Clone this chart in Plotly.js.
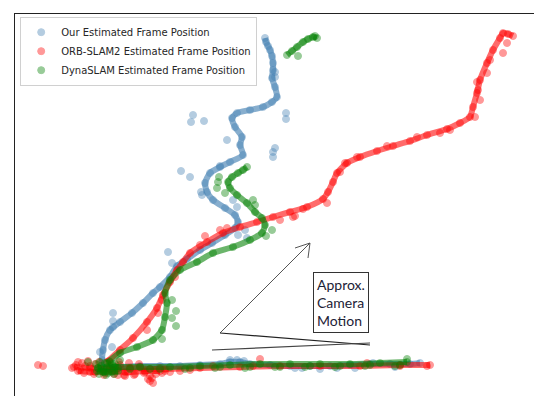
<!DOCTYPE html>
<html>
<head>
<meta charset="utf-8">
<script src="https://cdn.plot.ly/plotly-3.0.1.min.js"></script>
<style>html,body{margin:0;padding:0;background:#fff;}#chart{width:534px;height:396px;}</style>
</head>
<body>
<div id="chart"></div>
<script>
// Series names
var seriesNames = ["Our Estimated Frame Position", "ORB-SLAM2 Estimated Frame Position", "DynaSLAM Estimated Frame Position"];

// ---- Our method (blue) ----
var ourPathX = [265,266,268,270,272,273,273,272,275,277,272,263,250,237,232,235,242,240,243,230,220,210,205,207,213,225,235,238,235,225,212,200,187,177,170,160,153,143,132,120,110,105,103,102,103,null,
                103,120,140,160,180,200,220,230,240,250,270,290,310,330,350,370,390,410,420];
var ourPathY = [38,42,46,50,56,63,70,78,87,97,102,107,110,113,118,127,137,145,155,162,167,173,183,192,200,208,215,222,228,235,243,250,259,266,277,287,293,303,313,322,330,340,350,360,368,null,
                368,367,366,366,366,365,364,362,362,364,365,366,366,366,365,364,364,364,363];
var ourOutX = [275,275,193,191,204,286,286,227,275,273,273,181,190,201,202,233,237,245,238,247,168,172,113,113,113,100,112,220,230,237,244,302,337,373,295,320,355,395];
var ourOutY = [72,77,115,122,121,113,119,140,148,152,157,171,177,192,195,200,207,230,235,238,252,263,313,321,327,352,347,166,360,360,361,368,368,363,368,369,368,367];

// ---- ORB-SLAM2 (red) ----
var orbPathX = [107,120,133,147,157,163,170,177,183,190,207,223,240,257,273,290,307,323,328,333,337,347,360,377,393,410,427,447,460,470,473,477,480,487,493,500,503,508,513,null,
                74,90,110,130,150,165,200,240,280,320,360,400,430,null,
                78,95,112,128,145,160];
var orbPathY = [362,350,338,322,308,295,282,270,262,253,242,233,227,222,217,212,207,199,192,182,173,163,157,151,146,141,135,129,123,117,107,93,80,63,50,38,33,34,36,null,
                367,368,369,368,369,369,368,367,366,366,366,365,365,null,
                371,372,371,372,371,371];
var orbOutX = [327,293,357,345,340,387,417,440,450,475,478,477,487,490,507,503,480,220,227,280,295,303,205,200,175,147,158,162,
               38,43,72,76,80,85,90,95,100,105,110,115,120,125,130,135,140,145,150,150,153,155,160,165,118,125,90,82,260,213,253,367,400,427,
               78,84,88,94,99,104,109,114,119,124,129,134,139,144,148,152,156,162,170,180,190];
var orbOutY = [203,217,157,163,172,146,137,133,130,117,90,82,73,60,43,53,100,230,228,220,216,209,236,245,277,330,313,300,
               365,366,368,365,370,366,372,364,369,373,366,371,365,372,368,374,367,372,376,381,383,370,368,371,375,376,366,363,359,366,366,363,366,366,
               362,373,361,374,362,375,361,374,362,375,363,375,364,373,379,378,374,373,372,371,370];

// ---- DynaSLAM (green) ----
var dynaPathX = [107,120,137,153,162,165,167,165,170,180,197,213,233,250,262,265,262,255,247,237,230,228,232,238,243,247,null,
                 287,292,297,303,308,313,317,null,
                 98,115,140,170,200,230,260,290,320,350,380,407,null,
                 97,104,112,118];
var dynaPathY = [363,353,347,340,330,317,303,293,280,270,262,253,247,240,233,225,218,212,203,195,188,182,177,173,170,167,null,
                 55,51,47,42,39,37,38,null,
                 368,367,367,367,366,365,364,364,364,364,363,362,null,
                 371,372,372,371];
var dynaOutX = [98,101,104,107,110,113,103,108,112,298,315,219,218,217,225,253,255,272,266,172,176,172,176,162,120,88,407,150,185,215,245,275,305,335,365,395,
                96,100,105,110,115,118,99,106,114,130,160,190,220,250,280,310,340,370,400];
var dynaOutY = [368,366,370,367,369,366,372,373,364,56,36,177,182,188,193,200,205,230,236,300,311,318,326,339,360,362,359,369,369,368,368,367,367,367,366,366,
                364,362,363,362,364,368,374,375,374,369,369,368,367,367,367,366,366,365,365];

var colors = ["#4682b4", "#ff0000", "#008000"];
var lineColors = ["rgba(70,130,180,0.65)", "rgba(255,0,0,0.58)", "rgba(0,128,0,0.58)"];

function pathTrace(x, y, i) {
  return {x: x, y: y, mode: "lines", type: "scatter", showlegend: false, hoverinfo: "skip",
          line: {color: lineColors[i], width: 6, shape: "spline", smoothing: 0.6}, connectgaps: false};
}
function markerTrace(px, py, ox, oy, i) {
  var x = px.filter(function(v){return v !== null;}).concat(ox);
  var y = py.filter(function(v){return v !== null;}).concat(oy);
  return {x: x, y: y, mode: "markers", type: "scatter", name: seriesNames[i],
          marker: {color: colors[i], size: 7, opacity: 0.4, line: {color: colors[i], width: 1}}};
}

var data = [
  pathTrace(ourPathX, ourPathY, 0), markerTrace(ourPathX, ourPathY, ourOutX, ourOutY, 0),
  pathTrace(orbPathX, orbPathY, 1), markerTrace(orbPathX, orbPathY, orbOutX, orbOutY, 1),
  pathTrace(dynaPathX, dynaPathY, 2), markerTrace(dynaPathX, dynaPathY, dynaOutX, dynaOutY, 2)
];
data[1].legendrank = 1; data[3].legendrank = 2; data[5].legendrank = 3;

function seg(x0, y0, x1, y1, c, w) {
  return {type: "line", xref: "x", yref: "y", x0: x0, y0: y0, x1: x1, y1: y1, line: {color: c, width: w}};
}

var layout = {
  width: 534, height: 396,
  margin: {l: 15, r: 0, t: 14, b: 0, pad: 0},
  paper_bgcolor: "#fff", plot_bgcolor: "#fff",
  xaxis: {range: [15, 534], showgrid: false, zeroline: false, showticklabels: false, ticks: "",
          showline: true, side: "top", linecolor: "#222", linewidth: 1.3},
  yaxis: {range: [396, 14], showgrid: false, zeroline: false, showticklabels: false, ticks: "",
          showline: true, linecolor: "#222", linewidth: 1.3},
  showlegend: true,
  legend: {x: 0.01, y: 0.993, xanchor: "left", yanchor: "top", bgcolor: "rgba(255,255,255,0.85)",
           bordercolor: "#d0d0d0", borderwidth: 1, font: {family: "DejaVu Sans", size: 10, color: "#262626"},
           tracegroupgap: 0, itemwidth: 30},
  shapes: [
    seg(220, 333, 310, 243, "#555", 1),
    seg(310, 243, 295, 248, "#555", 1),
    seg(310, 243, 308, 258, "#555", 1),
    seg(220, 333, 370, 345, "#222", 1.2),
    seg(212, 350, 370, 343, "#444", 1.2)
  ],
  annotations: [{
    x: 313, y: 272, xref: "x", yref: "y", xanchor: "left", yanchor: "top", showarrow: false, align: "left",
    text: "Approx.<br>Camera<br>Motion", bordercolor: "#333", borderwidth: 1, borderpad: 3, bgcolor: "#fff",
    font: {family: "Lato", size: 14, color: "#1c2236"}
  }]
};

Plotly.newPlot("chart", data, layout, {displayModeBar: false, staticPlot: true});
</script>
</body>
</html>
